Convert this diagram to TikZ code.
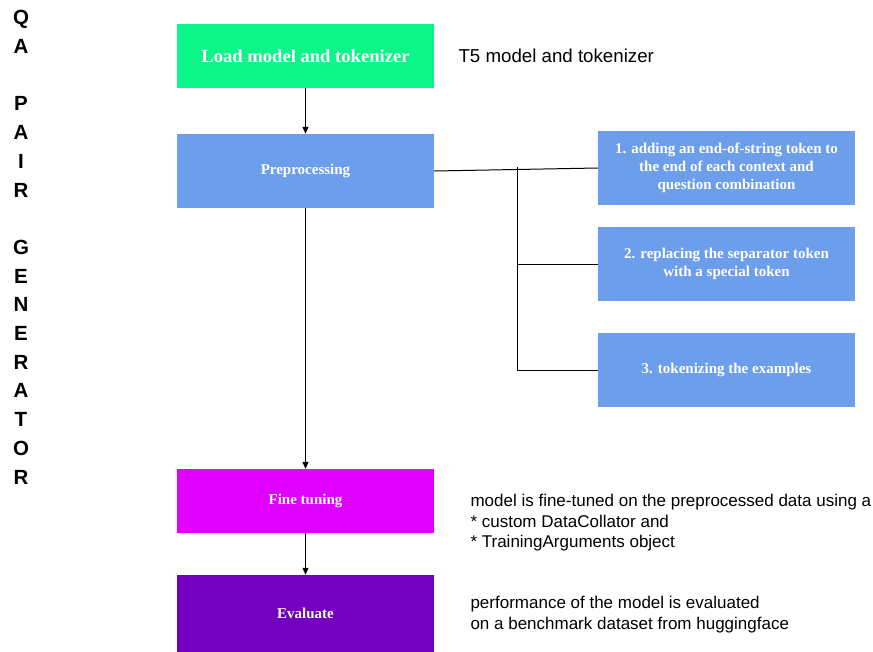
\documentclass[tikz,border=0pt]{standalone}
\usepackage{fontspec}
\setmainfont{Liberation Serif}
\setsansfont{Liberation Sans}
\usepackage{xcolor}
\usepackage{tikz}
\usetikzlibrary{arrows.meta, positioning, calc}
\definecolor{loadcolor}{HTML}{0CF589}
\definecolor{prepcolor}{HTML}{6D9EEB}
\definecolor{tunecolor}{HTML}{DF00FE}
\definecolor{evalcolor}{HTML}{7300BF}

\begin{document}
\begin{tikzpicture}[x=1pt, y=-1pt,
    stagebox/.style={minimum width=257pt, inner sep=0pt, align=center, text=white,
        font=\fontsize{15}{18}\selectfont\bfseries},
    note/.style={anchor=west, align=left, font=\sffamily\fontsize{17}{20.5}\selectfont},
    flow/.style={-{Triangle[length=7pt, width=6pt]}, line width=1pt},
    link/.style={line width=1pt}]

    % Canvas
    \useasboundingbox (0,0) rectangle (873,651);

    % Title down the left side
    \node[anchor=north, align=center, font=\sffamily\bfseries\fontsize{20.5}{28.7}\selectfont]
        (title) at (21,7) {Q\\A\\~\\P\\A\\I\\R\\~\\G\\E\\N\\E\\R\\A\\T\\O\\R};

    % Main stages
    \node[stagebox, fill=loadcolor, minimum height=64pt, font=\fontsize{18.6}{22}\selectfont\bfseries]
        (load) at (305.5,56) {Load model and tokenizer};
    \node[stagebox, fill=prepcolor, minimum height=74pt] (prep) at (305.5,171) {Preprocessing};
    \node[stagebox, fill=tunecolor, minimum height=64pt] (tune) at (305.5,501) {Fine tuning};
    \node[stagebox, fill=evalcolor, minimum height=77pt] (eval) at (305.5,613.5) {Evaluate};

    % Preprocessing steps
    \node[stagebox, fill=prepcolor, minimum height=74pt] (step1) at (726.5,168)
        {1. adding an end-of-string token to\\the end of each context and\\question combination};
    \node[stagebox, fill=prepcolor, minimum height=74pt] (step2) at (726.5,264)
        {2. replacing the separator token\\with a special token};
    \node[stagebox, fill=prepcolor, minimum height=74pt] (step3) at (726.5,370)
        {3. tokenizing the examples};

    % Notes
    \node[note, font=\sffamily\fontsize{18.7}{21}\selectfont] (loadnote) at (455,56) {T5 model and tokenizer};
    \node[note] (tunenote) at (467,523)
        {model is fine-tuned on the preprocessed data using a\\* custom DataCollator and\\* TrainingArguments object};
    \node[note] (evalnote) at (467,614.5)
        {performance of the model is evaluated\\on a benchmark dataset from huggingface};

    % Flow
    \draw[flow] (load) -- (prep);
    \draw[flow] (prep) -- (tune);
    \draw[flow] (tune) -- (eval);

    % Branches to the steps
    \coordinate (bus) at (517,167);
    \draw[link] (prep.east) -- (step1.west);
    \draw[link] (bus) |- (step2.west);
    \draw[link] (bus) |- (step3.west);

\end{tikzpicture}
\end{document}
